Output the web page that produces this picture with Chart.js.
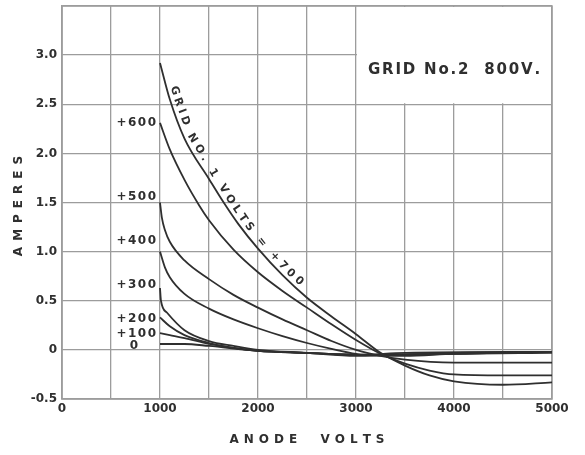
<!DOCTYPE html>
<html>
<head>
<meta charset="utf-8">
<script src="https://cdn.jsdelivr.net/npm/chart.js@4.4.0/dist/chart.umd.min.js"></script>
<style>
  html, body { margin: 0; padding: 0; background: #fff; }
  #wrap { width: 585px; height: 455px; }
</style>
</head>
<body>
<div id="wrap"><canvas id="anodeChart"></canvas></div>
<script>
// anode volts / amperes for each grid No.1 voltage
const volts700 = [1000, 1100, 1250, 1500, 1650, 1800, 2000, 2250, 2500, 2750, 3000, 3250, 3500, 3750, 4000, 4500, 5000];
const amps700  = [2.92, 2.55, 2.15, 1.74, 1.50, 1.28, 1.03, 0.76, 0.53, 0.34, 0.16, -0.03, -0.16, -0.26, -0.32, -0.355, -0.33];

const volts600 = [1000, 1100, 1250, 1400, 1500, 1750, 2000, 2250, 2500, 2750, 3000, 3250, 3500, 3750, 4000, 4500, 5000];
const amps600  = [2.31, 2.04, 1.73, 1.47, 1.32, 1.02, 0.79, 0.60, 0.43, 0.26, 0.10, -0.04, -0.14, -0.21, -0.25, -0.26, -0.26];

const volts500 = [1000, 1020, 1050, 1100, 1250, 1500, 1750, 2000, 2250, 2500, 2750, 3000, 3250, 3500, 4000, 5000];
const amps500  = [1.50, 1.34, 1.22, 1.10, 0.91, 0.72, 0.56, 0.43, 0.31, 0.20, 0.09, 0.00, -0.06, -0.10, -0.13, -0.13];

const volts400 = [1000, 1050, 1100, 1250, 1500, 1750, 2000, 2250, 2500, 2750, 3000, 3500, 4000, 5000];
const amps400  = [1.00, 0.84, 0.74, 0.57, 0.42, 0.31, 0.22, 0.14, 0.07, 0.01, -0.04, -0.06, -0.04, -0.03];

const volts300 = [1000, 1010, 1070, 1250, 1500, 1750, 2000, 2500, 3000, 3500, 4000, 5000];
const amps300  = [0.63, 0.50, 0.38, 0.20, 0.09, 0.04, 0.00, -0.03, -0.06, -0.05, -0.03, -0.02];

const volts200 = [1000, 1100, 1250, 1500, 1750, 2000, 2500, 3000, 3500, 5000];
const amps200  = [0.33, 0.24, 0.15, 0.07, 0.02, -0.01, -0.03, -0.05, -0.03, -0.02];

const volts100 = [1000, 1100, 1250, 1500, 1750, 2000, 2500, 3000, 5000];
const amps100  = [0.17, 0.15, 0.12, 0.06, 0.02, -0.01, -0.03, -0.05, -0.02];

const volts0 = [1000, 1250, 1500, 2000, 2500, 3000, 5000];
const amps0  = [0.06, 0.06, 0.04, -0.01, -0.03, -0.05, -0.02];

const curveLabels = ["+700", "+600", "+500", "+400", "+300", "+200", "+100", "0"];
const curveVolts = [volts700, volts600, volts500, volts400, volts300, volts200, volts100, volts0];
const curveAmps = [amps700, amps600, amps500, amps400, amps300, amps200, amps100, amps0];

const curveTitle = "GRID NO. 1 VOLTS = +700";
const noteText = "GRID No.2  800V.";
const xTitle = "ANODE  VOLTS";
const yTitle = "AMPERES";

const ink = "#2f2f2f";
const gridColor = "#9c9c9c";
const tickFont = "bold 12px 'DejaVu Sans'";

const datasets = curveLabels.map((lbl, i) => ({
  label: lbl,
  data: curveVolts[i].map((v, j) => ({ x: v, y: curveAmps[i][j] })),
  borderColor: ink,
  borderWidth: 1.8,
  pointRadius: 0,
  fill: false,
  cubicInterpolationMode: "monotone",
}));

// text with letter spacing, drawn by hand
function spaced(ctx, text, x, y, gap, align) {
  let w = 0;
  for (const ch of text) w += ctx.measureText(ch).width + gap;
  w -= gap;
  let cx = align === "center" ? x - w / 2 : align === "right" ? x - w : x;
  ctx.textAlign = "left";
  for (const ch of text) {
    ctx.fillText(ch, cx, y);
    cx += ctx.measureText(ch).width + gap;
  }
}

const annotate = {
  id: "annotate",
  beforeDatasetsDraw(chart) {
    const { ctx, scales: { x, y } } = chart;
    const ca = chart.chartArea;
    const l = x.getPixelForValue(3000), r = x.getPixelForValue(5000);
    const t = y.getPixelForValue(3.5), b = y.getPixelForValue(2.5);
    ctx.save();
    ctx.fillStyle = "#fff";
    ctx.fillRect(l + 1, t + 1, r - l - 2, b - t - 2);
    // frame round the whole grid
    ctx.strokeStyle = gridColor;
    ctx.lineWidth = 1.5;
    ctx.strokeRect(ca.left, ca.top, ca.right - ca.left, ca.bottom - ca.top);
    ctx.fillStyle = ink;
    ctx.font = "bold 15px 'DejaVu Sans'";
    ctx.textBaseline = "middle";
    spaced(ctx, noteText, (l + r) / 2, (t + b) / 2 + 15, 1.8, "center");
    ctx.restore();
  },
  afterDatasetsDraw(chart) {
    const { ctx, scales: { x, y } } = chart;
    ctx.save();
    ctx.fillStyle = ink;
    ctx.font = tickFont;
    ctx.textBaseline = "middle";

    // labels at the start of each curve (skip +700, it is written along its curve)
    const lift = [0, 0, -6, -11, -3, 1, 1, 2];
    for (let i = 1; i < curveLabels.length; i++) {
      const px = x.getPixelForValue(curveVolts[i][0]) - 4 - (i === 7 ? 18 : 0);
      const py = y.getPixelForValue(curveAmps[i][0]) + lift[i];
      spaced(ctx, curveLabels[i], px, py, 1.5, "right");
    }

    // title written along the +700 curve
    const pts = chart.getDatasetMeta(0).data.map(p => ({ x: p.x, y: p.y }));
    const seg = [];
    let total = 0;
    for (let i = 1; i < pts.length; i++) {
      const len = Math.hypot(pts[i].x - pts[i - 1].x, pts[i].y - pts[i - 1].y);
      seg.push({ a: pts[i - 1], b: pts[i], s: total, len });
      total += len;
    }
    const at = s => {
      const g = seg.find(q => s <= q.s + q.len) || seg[seg.length - 1];
      const f = (s - g.s) / g.len;
      const dx = (g.b.x - g.a.x) / g.len, dy = (g.b.y - g.a.y) / g.len;
      return { x: g.a.x + f * (g.b.x - g.a.x), y: g.a.y + f * (g.b.y - g.a.y), dx, dy };
    };
    ctx.font = "bold 11px 'DejaVu Sans'";
    ctx.textBaseline = "alphabetic";
    ctx.textAlign = "left";
    const s0 = 26, s1 = 268;
    let w = 0;
    for (const ch of curveTitle) w += ctx.measureText(ch).width;
    const gap = (s1 - s0 - w) / (curveTitle.length - 1);
    let s = s0;
    for (const ch of curveTitle) {
      const cw = ctx.measureText(ch).width;
      const p = at(s + cw / 2);
      const ang = Math.atan2(p.dy, p.dx);
      const off = 4;
      ctx.save();
      ctx.translate(p.x + p.dy * off, p.y - p.dx * off);
      ctx.rotate(ang);
      ctx.fillText(ch, -cw / 2, 0);
      ctx.restore();
      s += cw + gap;
    }

    // axis titles
    ctx.font = "bold 12px 'DejaVu Sans'";
    ctx.textBaseline = "middle";
    const ca = chart.chartArea;
    spaced(ctx, xTitle, (ca.left + ca.right) / 2, 440, 5, "center");
    ctx.translate(19, 206);
    ctx.rotate(-Math.PI / 2);
    spaced(ctx, yTitle, 0, 0, 6, "center");
    ctx.restore();
  },
};

new Chart(document.getElementById("anodeChart"), {
  type: "line",
  data: { datasets },
  options: {
    responsive: true,
    maintainAspectRatio: false,
    animation: false,
    layout: { padding: { top: 6, right: 33, left: 0, bottom: 0 } },
    plugins: { legend: { display: false }, tooltip: { enabled: false } },
    scales: {
      x: {
        type: "linear",
        min: 0,
        max: 5000,
        ticks: {
          stepSize: 500,
          color: ink,
          font: { family: "DejaVu Sans", size: 12, weight: "bold" },
          padding: 3,
          maxRotation: 0,
          callback: v => (v % 1000 === 0 ? String(v) : ""),
        },
        grid: { color: gridColor, lineWidth: 1.3, drawTicks: false },
        border: { color: gridColor, width: 1.3 },
        afterFit: s => { s.height = 56; s.paddingLeft = 0; s.paddingRight = 0; },
      },
      y: {
        min: -0.5,
        max: 3.5,
        ticks: {
          stepSize: 0.5,
          color: ink,
          font: { family: "DejaVu Sans", size: 12, weight: "bold" },
          padding: 5,
          callback: v => (v > 3.2 ? "" : v === 0 ? "0" : v.toFixed(1)),
        },
        grid: { color: gridColor, lineWidth: 1.3, drawTicks: false },
        border: { color: gridColor, width: 1.3 },
        afterFit: s => { s.width = 62; s.paddingTop = 0; s.paddingBottom = 0; },
      },
    },
  },
  plugins: [annotate],
});
</script>
</body>
</html>
